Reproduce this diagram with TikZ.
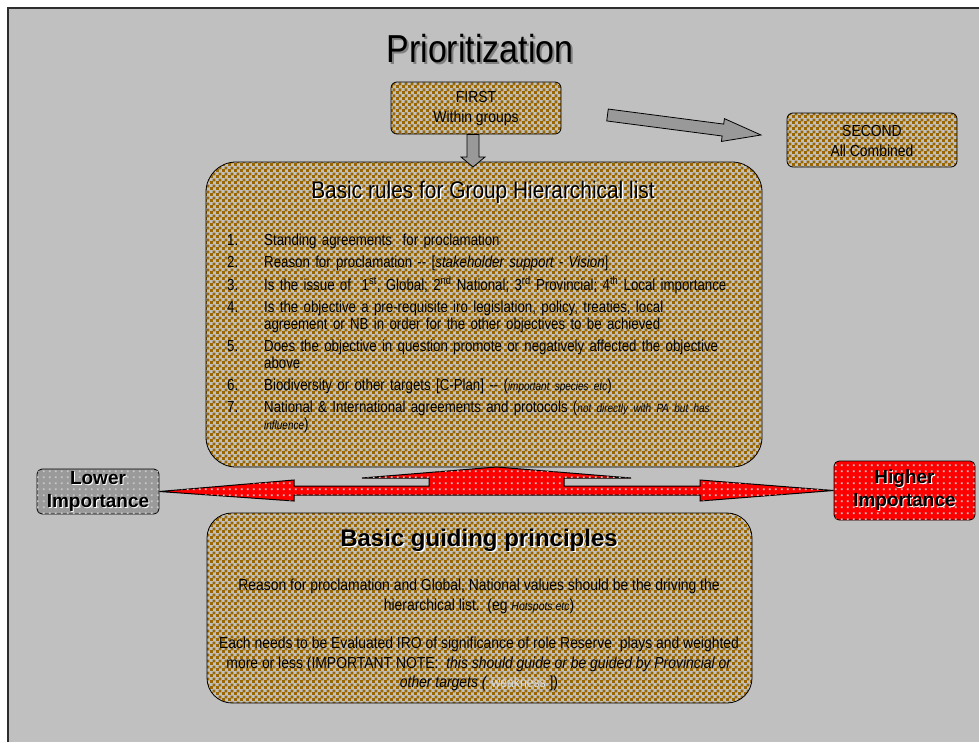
\documentclass[tikz,border=0pt]{standalone}
\usepackage{fontspec}
\setmainfont{Liberation Sans}
\newfontfamily\narrowfont[FakeStretch=0.87]{Liberation Sans}
\newfontfamily\listfont[FakeStretch=0.83]{Liberation Sans}
\usetikzlibrary{patterns,calc}

\definecolor{slidegray}{HTML}{C0C0C0}
\definecolor{framegray}{HTML}{2D2D2D}
\definecolor{checkbrown}{HTML}{996600}
\definecolor{arrowgray}{HTML}{999999}
\definecolor{dotgray}{HTML}{C8C8C8}
\definecolor{boxgray}{HTML}{9A9A9A}
\definecolor{faintgray}{HTML}{DCDCDC}

% checker and dot fills
\pgfdeclarepatternformonly{bigchecker}{\pgfpointorigin}{\pgfqpoint{6pt}{6pt}}{\pgfqpoint{6pt}{6pt}}{%
  \pgfpathrectangle{\pgfpointorigin}{\pgfqpoint{3.3pt}{3.3pt}}%
  \pgfpathrectangle{\pgfqpoint{3pt}{3pt}}{\pgfqpoint{3.3pt}{3.3pt}}%
  \pgfusepath{fill}}
\pgfdeclarepatternformonly{sparsedots}{\pgfpointorigin}{\pgfqpoint{6pt}{6pt}}{\pgfqpoint{6pt}{6pt}}{%
  \pgfpathrectangle{\pgfqpoint{1pt}{1pt}}{\pgfqpoint{2pt}{2pt}}%
  \pgfusepath{fill}}

\newcommand{\shadowtext}[3]{\makebox[0pt][l]{\hspace{#2}\raisebox{-#2}{\textcolor{#1}{#3}}}#3}
\newcommand{\ruleline}[2]{\hangindent=37pt\hangafter=1\noindent\makebox[37pt][l]{#1}#2\par}
\newcommand{\smallit}[1]{{\fontsize{12}{14}\selectfont\itshape #1}}
% block arrow: start, tip, half shaft, half head, head length
\newcommand{\blockarrow}[5]{%
  \coordinate (ba-head) at ($(#2)!#5!(#1)$);
  \draw[blockarrow] ($(#1)!#3!90:(#2)$) -- ($(ba-head)!#3!-90:(#1)$)
    -- ($(ba-head)!#4!-90:(#1)$) -- (#2) -- ($(ba-head)!#4!90:(#1)$)
    -- ($(ba-head)!#3!90:(#1)$) -- ($(#1)!#3!-90:(#2)$) -- cycle;}

\begin{document}
\begin{tikzpicture}[
    x=1pt, y=-1pt,
    box/.style={
      draw=black,
      line width=0.8pt,
      rounded corners=6pt,
      pattern=bigchecker,
      pattern color=checkbrown,
      inner sep=0pt
    },
    narrowtext/.style={
      font=\narrowfont\fontsize{16}{20}\selectfont,
      align=center,
      inner sep=0pt
    },
    importance/.style={
      draw=black,
      line width=0.8pt,
      rounded corners=5pt,
      postaction={pattern=sparsedots, pattern color=dotgray},
      inner sep=0pt
    },
    importancetext/.style={
      font=\bfseries\fontsize{19}{23}\selectfont,
      align=center
    },
    blockarrow/.style={
      draw=black,
      fill=arrowgray,
      line width=0.8pt,
      line join=miter
    },
    redarrow/.style={
      draw=black,
      line width=1pt,
      fill=red,
      postaction={pattern=sparsedots, pattern color=dotgray}
    }
  ]

  \useasboundingbox (0,0) rectangle (979,742);
  \fill[white] (0,0) rectangle (979,742);
  \fill[slidegray] (8,8) rectangle (979,742);
  \draw[framegray, line width=2pt] (8,742) -- (8,8) -- (979,8);

  \node (title) at (480,50) [font=\narrowfont\fontsize{39}{40}\selectfont]
    {\shadowtext{gray}{2pt}{Prioritization}};

  \node (first) at (476,108) [box, minimum width=170pt, minimum height=52pt]{};
  \node (second) at (872,140) [box, minimum width=170pt, minimum height=54pt]{};

  \node (rules) at (484,314.5) [box, rounded corners=30pt,
    minimum width=556pt, minimum height=305pt]{};
  \node (principles) at (479.5,608) [box, rounded corners=25pt,
    minimum width=545pt, minimum height=190pt]{};

  \node (lower) at (98,491.5) [importance, fill=boxgray,
    minimum width=122pt, minimum height=45pt]{};
  \node (higher) at (904.5,490.5) [importance, fill=red,
    minimum width=141pt, minimum height=59pt]{};

  % arrows
  \coordinate (downstart) at ([xshift=-3pt]first.south);
  \coordinate (downtip) at (473,167);
  \coordinate (sidestart) at (607.5,115);
  \coordinate (sidetip) at (761,135);
  \blockarrow{downstart}{downtip}{6pt}{12pt}{10pt}
  \blockarrow{sidestart}{sidetip}{6pt}{11.5pt}{38.4pt}

  \draw[redarrow] (lower.east) -- (294,480) -- (294,486) -- (429,486)
    -- (429,478) -- (362,478) -- (496.5,467) -- (631,478) -- (564,478)
    -- (564,486) -- (700,486) -- (700,480) -- (higher.west)
    -- (700,501) -- (700,495) -- (294,495) -- (294,501) -- cycle;

  % texts
  \node (firsttext) at ([yshift=-1pt]first.center) [narrowtext] {FIRST\\Within groups};
  \node (secondtext) at ([yshift=-1pt]second.center) [narrowtext] {SECOND\\All Combined};

  \node (lowertext) at (lower.center) [importancetext]
    {\shadowtext{white}{1pt}{Lower}\\\shadowtext{white}{1pt}{Importance}};
  \node (highertext) at (higher.center) [importancetext]
    {\shadowtext{white}{1pt}{Higher}\\\shadowtext{white}{1pt}{Importance}};

  \node (rulestitle) at (483,193) [font=\narrowfont\fontsize{24}{26}\selectfont]
    {\shadowtext{white}{1.5pt}{Basic rules for Group Hierarchical list}};

  \node (ruleslist) at (227,245) [anchor=base west, inner sep=0pt, text width=530pt,
    align=left, font=\listfont\fontsize{16}{17}\selectfont]
    {\setlength{\parskip}{5pt}%
     \ruleline{1.}{Standing agreements\ \ for proclamation}%
     \ruleline{2.}{Reason for proclamation -- [\textit{stakeholder support - Vision}]}%
     \ruleline{3.}{Is the issue of\ \ 1\textsuperscript{st}, Global; 2\textsuperscript{nd} National; 3\textsuperscript{rd} Provincial; 4\textsuperscript{th} Local importance}%
     \ruleline{4.}{Is the objective a pre-requisite iro legislation, policy, treaties, local\hfil\break agreement or NB in order for the other objectives to be achieved}%
     \ruleline{5.}{Does the objective in question promote or negatively affected the objective\hfil\break above}%
     \ruleline{6.}{Biodiversity or other targets [C-Plan] -- (\smallit{important species etc})}%
     \ruleline{7.}{National \& International agreements and protocols (\smallit{not directly with PA but has}\hfil\break\smallit{influence})}};

  \node (principlestitle) at (479,541) [font=\bfseries\fontsize{24}{26}\selectfont]
    {\shadowtext{white}{1.5pt}{Basic guiding principles}};

  \node (reasontext) at (479,596) [narrowtext]
    {Reason for proclamation and Global, National values should be the driving the\\
     hierarchical list.\ \ (eg \smallit{Hotspots etc})};
  \node (eachtext) at (479,664) [narrowtext, font=\narrowfont\fontsize{16}{19.5}\selectfont]
    {Each needs to be Evaluated IRO of significance of role Reserve\ \ plays and weighted\\
     more or less (IMPORTANT NOTE:\ \ \textit{this should guide or be guided by Provincial or}\\
     \textit{other targets (} {\fontsize{14}{14}\selectfont\textcolor{faintgray}{weakness}} ])};

\end{tikzpicture}
\end{document}
